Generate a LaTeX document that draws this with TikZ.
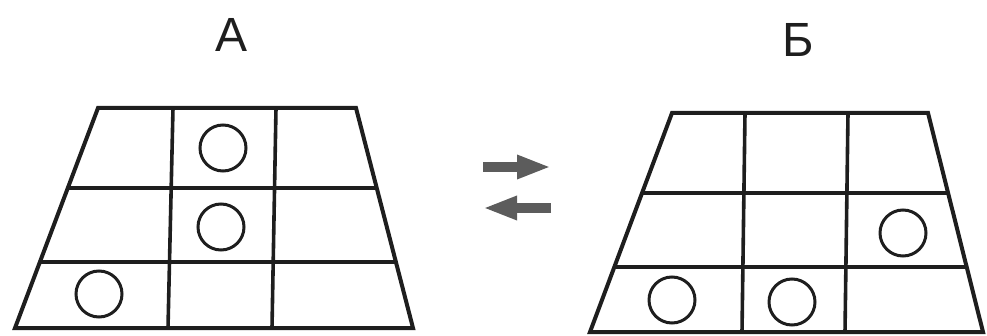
\documentclass[tikz,border=0pt]{standalone}
\usepackage{fontspec}
\setmainfont{Liberation Sans}
\usepackage{tikz}
\usetikzlibrary{arrows.meta,calc}
\definecolor{gridink}{HTML}{1E1E1E}
\definecolor{arrgray}{HTML}{5C5C5C}
\tikzset{
  frame/.style={draw=gridink,line width=4pt,line join=miter},
  bar/.style={draw=gridink,line width=3.6pt},
  ring/.style={circle,draw=gridink,line width=3pt,minimum size=46pt,inner sep=0pt},
  lbl/.style={inner sep=0pt,font=\fontsize{48}{50}\selectfont,text=gridink},
  swap/.style={-{Triangle[length=34pt,width=22pt]},line width=10pt,draw=arrgray},
}

\begin{document}
\begin{tikzpicture}[x=1pt,y=-1pt]
  \useasboundingbox (0,0) rectangle (987,336);
  % labels
  \node[lbl] (la) at (232,35) {А};
  \node[lbl] (lb) at (798,40) {Б};
  % grid A
  \coordinate (atl) at (98,108);  \coordinate (atr) at (356,108);
  \coordinate (abl) at (15,328);  \coordinate (abr) at (413,328);
  \draw[bar] ($(atl)!0.364!(abl)$) -- ($(atr)!0.364!(abr)$);
  \draw[bar] ($(atl)!0.70!(abl)$) -- ($(atr)!0.70!(abr)$);
  \draw[bar] (173,108) -- (168,328);
  \draw[bar] (276,108) -- (272,328);
  \draw[frame] (atl) -- (atr) -- (abr) -- (abl) -- cycle;
  \node[ring] (a1) at (223,148) {};
  \node[ring] (a2) at (221,227) {};
  \node[ring] (a3) at (99,294) {};
  % grid B
  \coordinate (btl) at (672,113); \coordinate (btr) at (928,113);
  \coordinate (bbl) at (590,332); \coordinate (bbr) at (983,332);
  \draw[bar] ($(btl)!0.365!(bbl)$) -- ($(btr)!0.365!(bbr)$);
  \draw[bar] ($(btl)!0.703!(bbl)$) -- ($(btr)!0.703!(bbr)$);
  \draw[bar] (745,113) -- (742,332);
  \draw[bar] (848,113) -- (845,332);
  \draw[frame] (btl) -- (btr) -- (bbr) -- (bbl) -- cycle;
  \node[ring] (b1) at (903,233) {};
  \node[ring] (b2) at (672,300) {};
  \node[ring] (b3) at (792,302) {};
  % arrows
  \coordinate (fwd0) at (483,167); \coordinate (fwd1) at (551,167);
  \coordinate (bck0) at (551,208); \coordinate (bck1) at (483,208);
  \draw[swap] (fwd0) -- (fwd1);
  \draw[swap] (bck0) -- (bck1);
\end{tikzpicture}
\end{document}
